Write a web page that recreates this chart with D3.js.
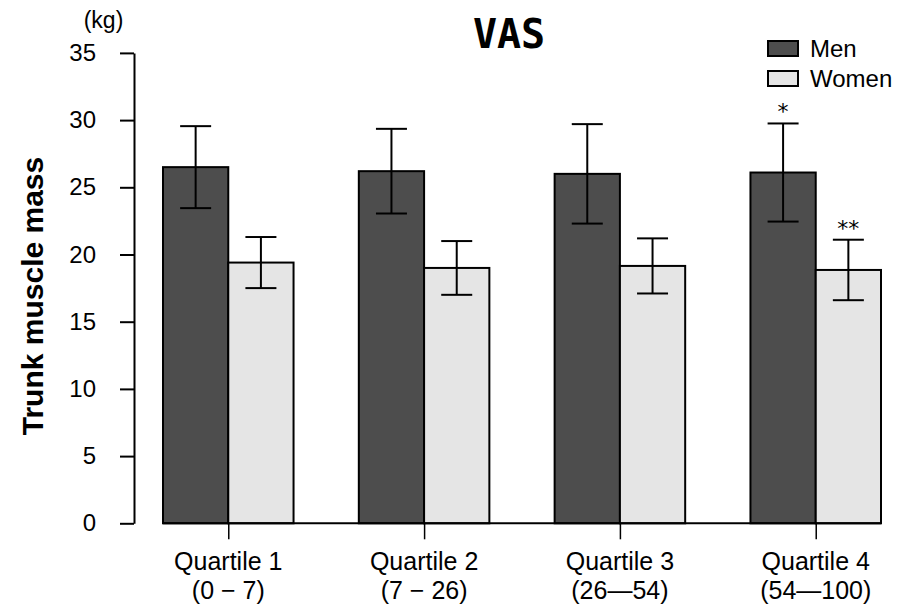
<!DOCTYPE html>
<html>
<head>
<meta charset="utf-8">
<script src="https://cdn.jsdelivr.net/npm/d3@7"></script>
<style>
  html, body { margin: 0; padding: 0; background: #ffffff; }
  svg { display: block; }
  text { font-family: "Liberation Sans", Arial, sans-serif; fill: #000; }
</style>
</head>
<body>
<svg id="chart" width="899" height="607"></svg>
<script>
// Trunk muscle mass (kg) by VAS quartile, men vs women: mean ± SD
const quartiles = ["Quartile 1", "Quartile 2", "Quartile 3", "Quartile 4"];
const ranges = ["(0 − 7)", "(7 − 26)", "(26—54)", "(54—100)"];
const sexes = ["Men", "Women"];
const menMean = [26.5, 26.2, 26.0, 26.1];
const menSD = [3.05, 3.15, 3.7, 3.65];
const womenMean = [19.4, 19.0, 19.15, 18.85];
const womenSD = [1.9, 2.0, 2.05, 2.25];
const menSig = ["", "", "", "*"];
const womenSig = ["", "", "", "**"];
const yTicks = [0, 5, 10, 15, 20, 25, 30, 35];

const colors = { Men: "#4d4d4d", Women: "#e5e5e5" };

const rows = [];
quartiles.forEach((q, i) => {
  rows.push({ q, sex: "Men", mean: menMean[i], sd: menSD[i], sig: menSig[i] });
  rows.push({ q, sex: "Women", mean: womenMean[i], sd: womenSD[i], sig: womenSig[i] });
});

const svg = d3.select("#chart");

const y = d3.scaleLinear().domain([0, 35]).range([523.3, 52.9]);
const x0 = d3.scaleBand().domain(quartiles).range([163, 881]).paddingInner(1 / 3).paddingOuter(0);
const x1 = d3.scaleBand().domain(sexes).range([0, x0.bandwidth()]);
const center = q => x0(q) + x0.bandwidth() / 2;

// Bars
svg.append("g").selectAll("rect").data(rows).join("rect")
  .attr("x", d => x0(d.q) + x1(d.sex))
  .attr("y", d => y(d.mean))
  .attr("width", x1.bandwidth())
  .attr("height", d => y(0) - y(d.mean))
  .attr("fill", d => colors[d.sex])
  .attr("stroke", "#000")
  .attr("stroke-width", 2);

// Baseline under the bars
svg.append("line")
  .attr("x1", x0.range()[0]).attr("x2", x0.range()[1])
  .attr("y1", y(0)).attr("y2", y(0))
  .attr("stroke", "#000").attr("stroke-width", 2);

// Error bars
const capW = 31;
const eb = svg.append("g").attr("stroke", "#000").attr("stroke-width", 2);
rows.forEach(d => {
  const cx = x0(d.q) + x1(d.sex) + x1.bandwidth() / 2;
  const top = y(d.mean + d.sd), bot = y(d.mean - d.sd);
  eb.append("line").attr("x1", cx).attr("x2", cx).attr("y1", top).attr("y2", bot);
  eb.append("line").attr("x1", cx - capW / 2).attr("x2", cx + capW / 2).attr("y1", top).attr("y2", top);
  eb.append("line").attr("x1", cx - capW / 2).attr("x2", cx + capW / 2).attr("y1", bot).attr("y2", bot);
});

// Significance marks
svg.append("g").selectAll("text").data(rows.filter(d => d.sig)).join("text")
  .attr("x", d => x0(d.q) + x1(d.sex) + x1.bandwidth() / 2)
  .attr("y", d => y(d.mean + d.sd) - 4)
  .attr("text-anchor", "middle")
  .style("font-family", '"DejaVu Sans", sans-serif')
  .style("font-size", "22px")
  .text(d => d.sig);

// Y axis
const yAxis = svg.append("g")
  .attr("transform", "translate(134,0)")
  .call(d3.axisLeft(y).tickValues(yTicks).tickSize(14).tickSizeOuter(0).tickPadding(24));
yAxis.select(".domain").attr("stroke", "#000").attr("stroke-width", 2);
yAxis.selectAll(".tick line").attr("stroke", "#000").attr("stroke-width", 2);
yAxis.selectAll(".tick text")
  .style("font-family", '"Liberation Sans", Arial, sans-serif')
  .style("font-size", "24px")
  .attr("fill", "#000");

// X axis ticks and two-line labels
const xAxis = svg.append("g")
  .attr("transform", `translate(0,${y(0)})`)
  .call(d3.axisBottom(d3.scalePoint().domain(quartiles).range([center(quartiles[0]), center(quartiles[3])])).tickSize(16).tickFormat(""));
xAxis.select(".domain").remove();
xAxis.selectAll(".tick line").attr("stroke", "#000").attr("stroke-width", 1.5);

const xl = svg.append("g").selectAll("text").data(quartiles).join("text")
  .attr("text-anchor", "middle")
  .attr("transform", d => `translate(${center(d)},0)`)
  .style("font-size", "25px");
xl.append("tspan").attr("x", 0).attr("y", 570).text(d => d);
xl.append("tspan").attr("x", 0).attr("y", 599).text((d, i) => ranges[i]);

// Title
svg.append("text")
  .attr("x", 509).attr("y", 48)
  .attr("text-anchor", "middle")
  .style("font-family", '"DejaVu Sans Mono", monospace')
  .style("font-weight", "bold")
  .style("font-size", "40px")
  .text("VAS");

// Unit label
svg.append("text")
  .attr("x", 103.5).attr("y", 28)
  .attr("text-anchor", "middle")
  .style("font-size", "23px")
  .text("(kg)");

// Y axis title
svg.append("text")
  .attr("transform", "translate(43,296) rotate(-90)")
  .attr("text-anchor", "middle")
  .style("font-weight", "bold")
  .style("font-size", "30px")
  .text("Trunk muscle mass");

// Legend
const legend = svg.append("g");
sexes.forEach((s, i) => {
  legend.append("rect")
    .attr("x", 768).attr("y", 41 + i * 30)
    .attr("width", 30).attr("height", 15)
    .attr("fill", colors[s]).attr("stroke", "#000").attr("stroke-width", 2);
  legend.append("text")
    .attr("x", 810).attr("y", 57 + i * 30)
    .style("font-size", "24px")
    .text(s);
});
</script>
</body>
</html>
